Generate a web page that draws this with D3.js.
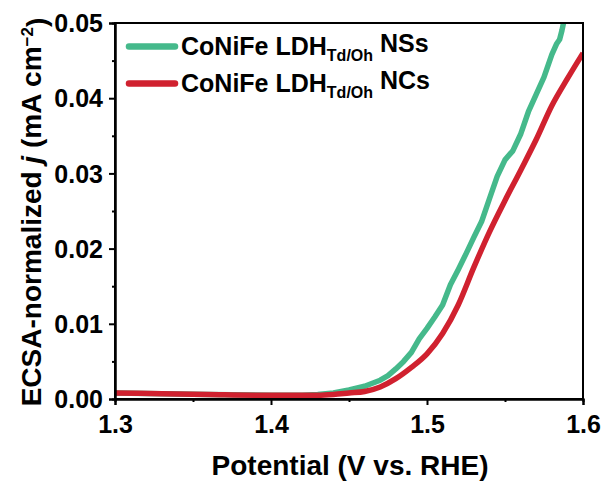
<!DOCTYPE html>
<html>
<head>
<meta charset="utf-8">
<script src="https://cdn.jsdelivr.net/npm/d3@7"></script>
<style>
  html, body { margin: 0; padding: 0; background: #fff; }
  svg text { font-family: "Liberation Sans", Arial, sans-serif; font-weight: bold; fill: #000; }
</style>
</head>
<body>
<svg id="chart" width="608" height="487"></svg>
<script>
// Potential (V vs. RHE) and ECSA-normalized current density (mA cm^-2)
const nssPotential = [1.30, 1.33, 1.36, 1.40, 1.42, 1.43, 1.44, 1.45, 1.46, 1.47, 1.475, 1.48, 1.485, 1.49, 1.495,
  1.50, 1.505, 1.51, 1.515, 1.52, 1.525, 1.53, 1.535, 1.54, 1.545, 1.55, 1.555, 1.56, 1.565, 1.57, 1.575, 1.58,
  1.583, 1.585, 1.5865, 1.588];
const nssCurrent = [0.0008, 0.0007, 0.0006, 0.0005, 0.0005, 0.0006, 0.0008, 0.0012, 0.0017, 0.0025, 0.0031, 0.0040,
  0.0050, 0.0062, 0.0080, 0.0094, 0.0109, 0.0125, 0.0152, 0.0172, 0.0193, 0.0215, 0.0236, 0.0266, 0.0296, 0.0318,
  0.0330, 0.0352, 0.0382, 0.0405, 0.0428, 0.0458, 0.0472, 0.0478, 0.0490, 0.0505];

const ncsPotential = [1.30, 1.33, 1.36, 1.40, 1.42, 1.43, 1.44, 1.45, 1.46, 1.47, 1.48, 1.49, 1.50, 1.51, 1.52,
  1.53, 1.54, 1.55, 1.56, 1.57, 1.58, 1.59, 1.60];
const ncsCurrent = [0.0008, 0.0007, 0.0006, 0.0005, 0.0005, 0.0005, 0.0006, 0.0008, 0.0010, 0.0016, 0.0027, 0.0042,
  0.0060, 0.0087, 0.0125, 0.0175, 0.0222, 0.0264, 0.0304, 0.0345, 0.0390, 0.0426, 0.0460];

const xTicks = [1.3, 1.4, 1.5, 1.6];
const xMinorTicks = [1.35, 1.45, 1.55];
const yTicks = [0, 0.01, 0.02, 0.03, 0.04, 0.05];
const yMinorTicks = [0.005, 0.015, 0.025, 0.035, 0.045];

const seriesNames = ["NSs", "NCs"];
const seriesColors = ["#45b98b", "#d0212f"];

const svg = d3.select("#chart");
const plot = { left: 115, right: 583, top: 23, bottom: 399 };

const x = d3.scaleLinear().domain([1.3, 1.6]).range([plot.left, plot.right]);
const y = d3.scaleLinear().domain([0, 0.05]).range([plot.bottom, plot.top]);

svg.append("defs").append("clipPath").attr("id", "plotClip")
  .append("rect")
  .attr("x", plot.left).attr("y", plot.top)
  .attr("width", plot.right - plot.left).attr("height", plot.bottom - plot.top);

// curves
const line = d3.line().x(d => x(d[0])).y(d => y(d[1]));
const seriesData = [
  d3.zip(nssPotential, nssCurrent),
  d3.zip(ncsPotential, ncsCurrent)
];
const curveGroup = svg.append("g").attr("clip-path", "url(#plotClip)");
seriesData.forEach((data, i) => {
  curveGroup.append("path")
    .datum(data)
    .attr("fill", "none")
    .attr("stroke", seriesColors[i])
    .attr("stroke-width", 5.5)
    .attr("stroke-linejoin", "round")
    .attr("stroke-linecap", "butt")
    .attr("d", line.curve(i === 0 ? d3.curveLinear : d3.curveMonotoneX));
});

// frame
svg.append("rect")
  .attr("x", plot.left).attr("y", plot.top)
  .attr("width", plot.right - plot.left).attr("height", plot.bottom - plot.top)
  .attr("fill", "none").attr("stroke", "#000").attr("stroke-width", 2);

// axes
const xAxis = svg.append("g")
  .attr("transform", `translate(0,${plot.bottom})`)
  .call(d3.axisBottom(x).tickValues(xTicks).tickFormat(d3.format(".1f")).tickSize(6).tickPadding(10));
const xMinor = svg.append("g")
  .attr("transform", `translate(0,${plot.bottom})`)
  .call(d3.axisBottom(x).tickValues(xMinorTicks).tickFormat("").tickSize(3));
const yAxis = svg.append("g")
  .attr("transform", `translate(${plot.left},0)`)
  .call(d3.axisLeft(y).tickValues(yTicks).tickFormat(d => d === 0 ? "0.00" : d3.format(".2f")(d)).tickSize(6).tickPadding(6));
const yMinor = svg.append("g")
  .attr("transform", `translate(${plot.left},0)`)
  .call(d3.axisLeft(y).tickValues(yMinorTicks).tickFormat("").tickSize(3));

[xAxis, xMinor, yAxis, yMinor].forEach(g => {
  g.select(".domain").attr("stroke", "#000").attr("stroke-width", 2);
  g.selectAll(".tick line").attr("stroke", "#000").attr("stroke-width", 2);
  g.selectAll(".tick text").style("font-size", "25px").attr("fill", "#000");
});
yAxis.selectAll(".tick text").attr("dy", "0.35em");

// axis titles
svg.append("text")
  .attr("x", (plot.left + plot.right) / 2 + 1).attr("y", 475)
  .attr("text-anchor", "middle")
  .style("font-size", "28px")
  .text("Potential (V vs. RHE)");

const yTitle = svg.append("text")
  .attr("transform", `translate(41,212) rotate(-90)`)
  .attr("text-anchor", "middle")
  .style("font-size", "28px");
yTitle.append("tspan").text("ECSA-normalized ");
yTitle.append("tspan").style("font-style", "italic").text("j");
yTitle.append("tspan").text(" (mA cm");
yTitle.append("tspan").attr("dy", "-0.45em").style("font-size", "17px").text("\u22122");
yTitle.append("tspan").attr("dy", "0.45em").text(")");

// legend
const legend = svg.append("g");
seriesNames.forEach((name, i) => {
  const ly = 46.5 + i * 37;
  legend.append("line")
    .attr("x1", 129).attr("x2", 175)
    .attr("y1", ly).attr("y2", ly)
    .attr("stroke", seriesColors[i]).attr("stroke-width", 6.5).attr("stroke-linecap", "round");
  const t = legend.append("text").attr("x", 181).attr("y", ly + 8.5).style("font-size", "25px");
  t.append("tspan").text("CoNiFe LDH");
  t.append("tspan").attr("dy", "0.35em").style("font-size", "16px").text("Td/Oh");
  t.append("tspan").attr("dy", "-0.35em").text(" " + name);
});
</script>
</body>
</html>
